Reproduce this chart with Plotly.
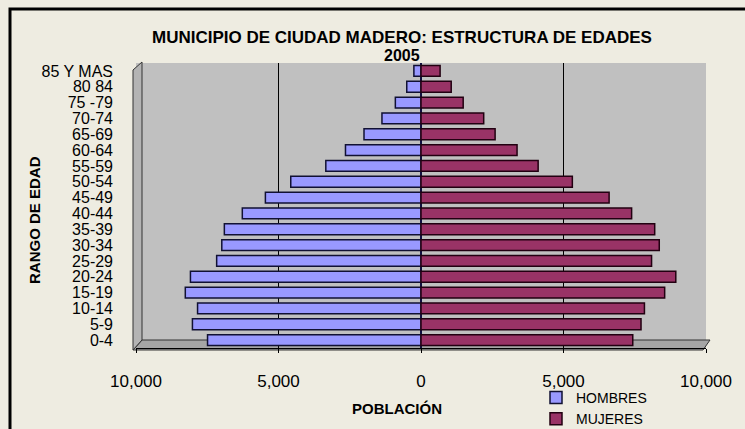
import plotly.graph_objects as go

# Age groups, bottom to top
age_groups = ["0-4", "5-9", "10-14", "15-19", "20-24", "25-29", "30-34", "35-39",
              "40-44", "45-49", "50-54", "55-59", "60-64", "65-69", "70-74",
              "75 -79", "80 84", "85 Y MAS"]

# Population by sex
hombres = [7490, 8020, 7840, 8270, 8090, 7170, 6990, 6900, 6270, 5460,
           4570, 3340, 2650, 2000, 1370, 900, 500, 250]
mujeres = [7430, 7720, 7840, 8550, 8940, 8090, 8360, 8200, 7390, 6600,
           5310, 4110, 3370, 2600, 2200, 1480, 1060, 670]

x_ticks = [-10000, -5000, 0, 5000, 10000]
x_tick_text = ["10,000", "5,000", "0", "5,000", "10,000"]

FONT = "Liberation Sans, Arial, sans-serif"

fig = go.Figure()

fig.add_trace(go.Bar(
    y=age_groups,
    x=[-v for v in hombres],
    customdata=hombres,
    name="HOMBRES",
    orientation="h",
    marker=dict(color="#9999FF", line=dict(color="#111133", width=1.5)),
    hovertemplate="<b>%{y}</b><br>Hombres: %{customdata:,}<extra></extra>"
))

fig.add_trace(go.Bar(
    y=age_groups,
    x=mujeres,
    name="MUJERES",
    orientation="h",
    marker=dict(color="#993366", line=dict(color="#220011", width=1.5)),
    hovertemplate="<b>%{y}</b><br>Mujeres: %{x:,}<extra></extra>"
))

# pseudo-3D walls: plot area spans px x 136..706, y 63..348
def px(x):
    return (x - 136) / 570

def py(y):
    return (348 - y) / 285

left_wall = "M {},{} L {},{} L {},{} L {},{} Z".format(
    px(133), py(70), px(142), py(62), px(142), py(340), px(133), py(350))
floor = "M {},{} L {},{} L {},{} L {},{} Z".format(
    px(133), py(350), px(142), py(340), px(710), py(340), px(703), py(350))

shapes = [
    dict(type="path", path=floor, xref="paper", yref="paper",
         fillcolor="#A6A6A6", line=dict(color="#333333", width=1), layer="below"),
    dict(type="path", path=left_wall, xref="paper", yref="paper",
         fillcolor="#B4B4B4", line=dict(color="#333333", width=1), layer="below"),
    # outer frame
    dict(type="rect", xref="paper", yref="paper",
         x0=px(10), y0=py(440), x1=px(760), y1=py(9),
         line=dict(color="black", width=3), fillcolor="rgba(0,0,0,0)"),
]

fig.update_layout(
    width=745,
    height=429,
    margin=dict(l=136, r=39, t=63, b=81, autoexpand=False),
    paper_bgcolor="#EEECE1",
    plot_bgcolor="#C0C0C0",
    barmode="overlay",
    bargap=0.32,
    font=dict(family=FONT, size=15, color="black"),
    showlegend=True,
    legend=dict(
        x=px(536), y=py(382), xanchor="left", yanchor="top",
        bgcolor="rgba(0,0,0,0)",
        font=dict(family=FONT, size=14),
        itemwidth=30, tracegroupgap=0,
        traceorder="normal"
    ),
    xaxis=dict(
        range=[-10000, 10000],
        tickvals=x_ticks,
        ticktext=x_tick_text,
        showgrid=True,
        gridcolor="black",
        gridwidth=1,
        zeroline=True,
        zerolinecolor="#101040",
        zerolinewidth=1.5,
        ticks="outside",
        ticklen=4,
        tickcolor="black",
        ticklabelstandoff=14,
        tickfont=dict(size=17),
        showline=True,
        linecolor="black",
        automargin=False,
        fixedrange=True,
    ),
    yaxis=dict(
        categoryorder="array",
        categoryarray=age_groups,
        tickmode="array",
        tickvals=age_groups,
        showgrid=False,
        ticks="",
        ticklabelstandoff=22,
        tickfont=dict(size=16),
        showline=False,
        automargin=False,
        fixedrange=True,
    ),
    shapes=shapes,
    annotations=[
        dict(text="<b>MUNICIPIO DE CIUDAD MADERO: ESTRUCTURA DE EDADES</b>",
             xref="paper", yref="paper", x=px(402), y=py(38),
             showarrow=False, font=dict(size=17, family=FONT),
             xanchor="center", yanchor="middle"),
        dict(text="<b>2005</b>",
             xref="paper", yref="paper", x=px(402), y=py(56),
             showarrow=False, font=dict(size=16, family=FONT),
             xanchor="center", yanchor="middle"),
        dict(text="<b>POBLACIÓN</b>",
             xref="paper", yref="paper", x=px(397), y=py(408),
             showarrow=False, font=dict(size=15, family=FONT),
             xanchor="center", yanchor="middle"),
        dict(text="<b>RANGO DE EDAD</b>",
             xref="paper", yref="paper", x=px(35), y=py(220),
             showarrow=False, textangle=-90, font=dict(size=15, family=FONT),
             xanchor="center", yanchor="middle"),
    ],
)

# drop the browser's default page margin so the figure sits at the top-left corner
fig.write_html("out.html", config={"displayModeBar": False},
               post_script="document.body.style.margin = '0';")
